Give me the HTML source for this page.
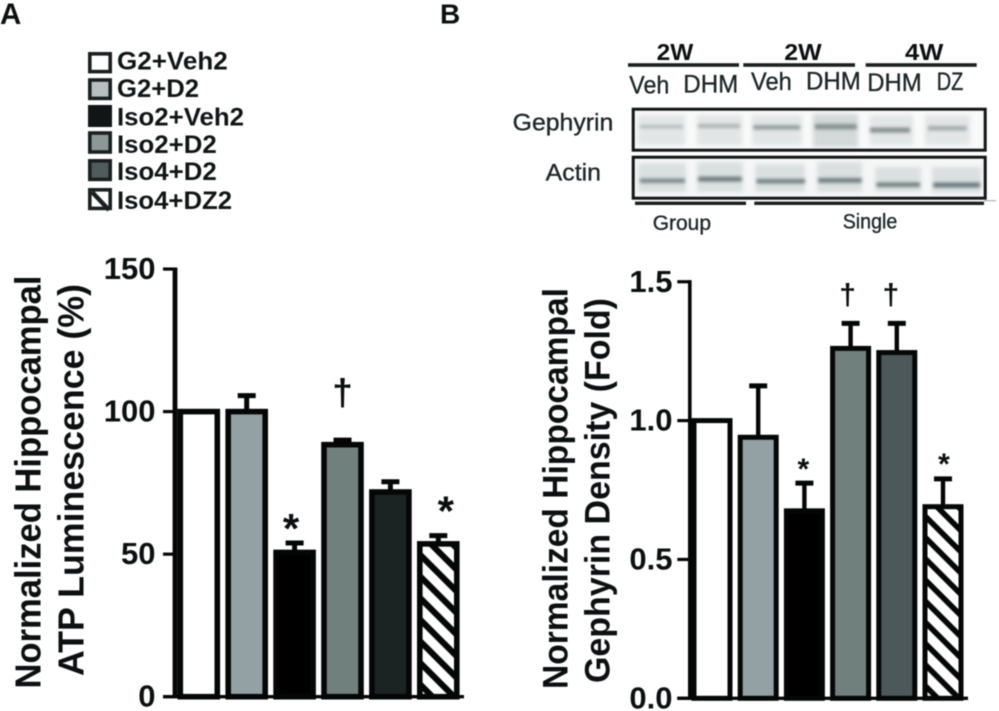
<!DOCTYPE html>
<html lang="en">
<head>
<meta charset="utf-8">
<title>Hippocampal ATP luminescence and gephyrin density</title>
<style>
  html, body { margin: 0; padding: 0; background: #fff; }
  body { width: 999px; height: 711px; overflow: hidden; }
  svg { display: block; filter: blur(0.6px); font-family: "Liberation Sans", sans-serif; }
  .b { font-weight: bold; fill: #0c1010; }
  .blot-label { fill: #1d2727; font-size: 25px; stroke: #1d2727; stroke-width: 0.35px; }
  .legend-text { font-size: 25px; font-weight: bold; fill: #101515; }
  .tick-label { font-weight: bold; fill: #0c1010; text-anchor: end; }
  .bar { stroke: #050707; }
  .atp .f0, .gep .f0 { fill: #fff; }
  .atp .f1, .gep .f1 { fill: #93a1a5; }
  .atp .f2, .gep .f2 { fill: #000; }
  .atp .f3, .gep .f3 { fill: #6f807d; }
  .atp .f4 { fill: #1c2323; }
  .gep .f4 { fill: #4c5859; }
  .atp .f5 { fill: url(#hatch-a); }
  .gep .f5 { fill: url(#hatch-b); }
</style>
</head>
<body>
<svg id="fig" xmlns="http://www.w3.org/2000/svg" width="999" height="711" viewBox="0 0 999 711">
  <defs>
    <pattern id="hatch-a" patternUnits="userSpaceOnUse" width="21.6" height="21.6" x="0" y="134.7">
      <rect width="21.6" height="21.6" fill="#fff"/>
      <path d="M-6,-6 L27.6,27.6 M-6,15.6 L6,27.6 M15.6,-6 L27.6,6" stroke="#050707" stroke-width="6.2"/>
    </pattern>
    <pattern id="hatch-b" patternUnits="userSpaceOnUse" width="21.2" height="21.2" x="0" y="-409">
      <rect width="21.2" height="21.2" fill="#fff"/>
      <path d="M-6,-6 L27.2,27.2 M-6,15.2 L6,27.2 M15.2,-6 L27.2,6" stroke="#050707" stroke-width="5.6"/>
    </pattern>
    <filter id="soft" x="-20%" y="-150%" width="140%" height="400%"><feGaussianBlur stdDeviation="1.7"/></filter>
    <filter id="halo" x="-20%" y="-30%" width="140%" height="160%"><feGaussianBlur stdDeviation="2.2"/></filter>
  </defs>
  <rect width="999" height="711" fill="#fff"/>

  <text x="0" y="24" class="b" font-size="29.5">A</text>
  <text x="440" y="23.3" class="b" font-size="28">B</text>

  <g>
    <g>
      <rect x="89.8" y="53.8" width="20.4" height="17.8" fill="#fff" stroke="#1a2020" stroke-width="3.6"/>
      <text x="117" y="69.5" class="legend-text" textLength="110.7" lengthAdjust="spacingAndGlyphs">G2+Veh2</text>
    </g>
    <g>
      <rect x="89.8" y="80" width="20.4" height="18.4" fill="#b6c0c0" stroke="#1a2020" stroke-width="3.6"/>
      <text x="117" y="97" class="legend-text" textLength="82" lengthAdjust="spacingAndGlyphs">G2+D2</text>
    </g>
    <g>
      <rect x="88" y="105" width="24" height="22" fill="#111515"/>
      <text x="117" y="125.7" class="legend-text" textLength="127" lengthAdjust="spacingAndGlyphs">Iso2+Veh2</text>
    </g>
    <g>
      <rect x="89.8" y="133" width="20.4" height="19" fill="#8c9796" stroke="#1a2020" stroke-width="3.6"/>
      <text x="117" y="153" class="legend-text" textLength="99.7" lengthAdjust="spacingAndGlyphs">Iso2+D2</text>
    </g>
    <g>
      <rect x="89.8" y="160.8" width="20.4" height="18.6" fill="#515b5c" stroke="#1a2020" stroke-width="3.6"/>
      <text x="117" y="180" class="legend-text" textLength="99.7" lengthAdjust="spacingAndGlyphs">Iso4+D2</text>
    </g>
    <g>
      <rect x="89.8" y="189.8" width="20.4" height="18.6" fill="#fff" stroke="#1a2020" stroke-width="3.6"/>
      <path d="M92,192 L109,210" stroke="#1a2020" stroke-width="4.5"/>
      <text x="117" y="209" class="legend-text" textLength="115" lengthAdjust="spacingAndGlyphs">Iso4+DZ2</text>
    </g>
  </g>

  <g>
    <g>
      <text x="656.7" y="60" class="b" font-size="23" textLength="36.6" lengthAdjust="spacingAndGlyphs">2W</text>
      <text x="784.3" y="60" class="b" font-size="23" textLength="37.4" lengthAdjust="spacingAndGlyphs">2W</text>
      <text x="905" y="60" class="b" font-size="23" textLength="38.3" lengthAdjust="spacingAndGlyphs">4W</text>
      <rect x="628" y="63.2" width="111" height="3.6" fill="#1a2020"/>
      <rect x="743.3" y="63.2" width="111.7" height="3.6" fill="#1a2020"/>
      <rect x="865.7" y="63.2" width="111" height="3.6" fill="#1a2020"/>
    </g>
    <g>
      <text x="629.3" y="93.3" class="blot-label" textLength="40" lengthAdjust="spacingAndGlyphs">Veh</text>
      <text x="683.3" y="92.3" class="blot-label" textLength="55" lengthAdjust="spacingAndGlyphs">DHM</text>
      <text x="751" y="90" class="blot-label" textLength="40.7" lengthAdjust="spacingAndGlyphs">Veh</text>
      <text x="806" y="89.3" class="blot-label" textLength="54.7" lengthAdjust="spacingAndGlyphs">DHM</text>
      <text x="867.3" y="91" class="blot-label" textLength="54.4" lengthAdjust="spacingAndGlyphs">DHM</text>
      <text x="936.7" y="90" class="blot-label" textLength="26.6" lengthAdjust="spacingAndGlyphs">DZ</text>
    </g>
    <text x="512.7" y="130.7" class="blot-label" style="font-size:24px" textLength="100.6" lengthAdjust="spacingAndGlyphs">Gephyrin</text>
    <text x="545.7" y="180.7" class="blot-label" style="font-size:24px" textLength="55.3" lengthAdjust="spacingAndGlyphs">Actin</text>

    <g>
      <rect x="633.2" y="109.2" width="352" height="41" fill="#f8f9f9"/>
      <g fill="#e2e6e6" filter="url(#halo)">
        <rect x="638" y="115" width="47" height="30"/>
        <rect x="697" y="115" width="45" height="30"/>
        <rect x="752" y="115" width="50" height="30"/>
        <rect x="813" y="114" width="45" height="33" fill="#d3d9d9"/>
        <rect x="870" y="115" width="43" height="30"/>
        <rect x="925" y="115" width="45" height="30"/>
      </g>
      <g filter="url(#soft)">
        <rect x="640" y="125" width="43" height="3.5" fill="#b4bcbc"/>
        <rect x="698" y="124" width="42" height="4" fill="#aab3b3"/>
        <rect x="753.3" y="125.2" width="46.7" height="4.4" fill="#909c9c"/>
        <rect x="815" y="124" width="41.7" height="5.4" fill="#87928f"/>
        <rect x="870" y="127.6" width="40" height="5" fill="#85908e"/>
        <rect x="928" y="126" width="38.7" height="4.5" fill="#a2acac"/>
      </g>
      <rect x="633.2" y="109.2" width="352" height="41" fill="none" stroke="#111616" stroke-width="3"/>
    </g>
    <g>
      <rect x="633.2" y="157.2" width="352" height="41" fill="#f5f7f7"/>
      <g fill="#dae0e0" filter="url(#halo)">
        <rect x="638" y="163" width="48" height="29"/>
        <rect x="697" y="162" width="46" height="30"/>
        <rect x="755" y="164" width="50" height="28"/>
        <rect x="817" y="162" width="45" height="30"/>
        <rect x="875" y="167" width="46" height="25"/>
        <rect x="932" y="167" width="49" height="26"/>
      </g>
      <g filter="url(#soft)">
        <rect x="640" y="178.5" width="45" height="4.4" fill="#7d898a"/>
        <rect x="698.3" y="176.7" width="43.4" height="4.8" fill="#6c797a"/>
        <rect x="756.7" y="179" width="48.3" height="4.4" fill="#727e7f"/>
        <rect x="818.3" y="178" width="43.4" height="4.8" fill="#727e7f"/>
        <rect x="876.7" y="182.5" width="43.3" height="4.4" fill="#727e7f"/>
        <rect x="933.3" y="182.6" width="46.7" height="4.8" fill="#69767d"/>
      </g>
      <rect x="633.2" y="157.2" width="352" height="41" fill="none" stroke="#111616" stroke-width="3"/>
    </g>
    <g>
      <rect x="635" y="201.6" width="111" height="3.4" fill="#1a2020"/>
      <rect x="754.3" y="201.6" width="229.7" height="3.4" fill="#1a2020"/>
      <rect x="984" y="200.2" width="12" height="1" fill="#9aa3a3"/>
      <text x="652.7" y="230" class="blot-label" style="font-size:21px" textLength="58.3" lengthAdjust="spacingAndGlyphs">Group</text>
      <text x="842.7" y="228.3" class="blot-label" style="font-size:21px" textLength="54.6" lengthAdjust="spacingAndGlyphs">Single</text>
    </g>
  </g>

  <g>
    <text transform="translate(40.5,688.5) rotate(-90)" class="b" font-size="36" textLength="413" lengthAdjust="spacingAndGlyphs">Normalized Hippocampal</text>
    <text transform="translate(83.3,676) rotate(-90)" class="b" font-size="36" textLength="392" lengthAdjust="spacingAndGlyphs">ATP Luminescence (%)</text>
  </g>
  <g>
    <text transform="translate(567.3,689) rotate(-90)" class="b" font-size="35" textLength="401" lengthAdjust="spacingAndGlyphs">Normalized Hippocampal</text>
    <text transform="translate(609.3,683) rotate(-90)" class="b" font-size="35" textLength="385" lengthAdjust="spacingAndGlyphs">Gephyrin Density (Fold)</text>
  </g>

  <g id="plot-a" class="atp"></g>
  <g id="plot-b" class="gep"></g>
</svg>

<script>
const categories = ['G2+Veh2', 'G2+D2', 'Iso2+Veh2', 'Iso2+D2', 'Iso4+D2', 'Iso4+DZ2'];

const atpValues = [100, 100, 50.6, 88.4, 71.8, 53.6];
const atpErrors = [0, 5.6, 3.3, 1.6, 3.6, 2.9];
const atpMarks = ['', '', '*', '†', '', '*'];
const atpTickValues = [0, 50, 100, 150];
const atpTickLabels = ['0', '50', '100', '150'];

const gephyrinValues = [1.0, 0.94, 0.675, 1.26, 1.245, 0.69];
const gephyrinErrors = [0, 0.185, 0.1, 0.09, 0.105, 0.1];
const gephyrinMarks = ['', '', '*', '†', '†', '*'];
const gephyrinTickValues = [0, 0.5, 1.0, 1.5];
const gephyrinTickLabels = ['0.0', '0.5', '1.0', '1.5'];

const SVG_NS = 'http://www.w3.org/2000/svg';

function make(parent, tag, attrs, text) {
  const el = document.createElementNS(SVG_NS, tag);
  for (const k in attrs) el.setAttribute(k, attrs[k]);
  if (text !== undefined) el.textContent = text;
  parent.appendChild(el);
  return el;
}

function drawPanel(root, cfg, values, errors, marks, tickValues, tickLabels) {
  const y = v => cfg.y0 - v * cfg.yScale;
  const x = i => cfg.x0 + cfg.pitch * i;

  values.forEach((v, i) => {
    const g = make(root, 'g', {});
    
    

    if (errors[i] > 0) {
      const top = y(v + errors[i]);
      const stem = make(g, 'line', { x1: x(i), x2: x(i), y1: top, y2: y(v), stroke: '#050707', 'stroke-width': cfg.stem });
      
      
      const cap = make(g, 'line', { x1: x(i) - cfg.cap / 2, x2: x(i) + cfg.cap / 2, y1: top, y2: top, stroke: '#050707', 'stroke-width': 5 });
      
      
    }

    const bar = make(g, 'rect', {
      x: x(i) - cfg.barWidth / 2, y: y(v),
      width: cfg.barWidth, height: cfg.y0 - y(v),
      'stroke-width': cfg.stroke,
      class: 'bar f' + i
    });
    
    

    if (marks[i]) {
      const isStar = marks[i] === '*';
      const t = make(g, 'text', {
        x: x(i) + cfg.markDx[i],
        y: y(v + errors[i]) + cfg.markDy[i],
        'text-anchor': 'middle',
        'font-size': isStar ? cfg.starSize : cfg.daggerSize,
        'font-weight': 'bold',
        fill: '#0a0e0e'
      }, marks[i]);
      
      
    }
  });

  const axis = make(root, 'g', {});
  
  

  const spine = make(axis, 'line', {
    x1: cfg.spineX, x2: cfg.spineX,
    y1: y(tickValues[tickValues.length - 1]) - 1.6, y2: cfg.y0,
    stroke: '#050707', 'stroke-width': cfg.spineWidth
  });
  
  

  tickValues.forEach((tv, i) => {
    const tick = make(axis, 'line', {
      x1: cfg.tickStart, x2: cfg.spineX, y1: y(tv), y2: y(tv),
      stroke: '#050707', 'stroke-width': 3.2
    });
    
    

    const label = make(axis, 'text', {
      x: cfg.labelX, y: y(tv) + cfg.labelDy,
      'font-size': cfg.labelSize, class: 'tick-label'
    }, tickLabels[i]);
    
    
  });

  const base = make(root, 'line', {
    x1: cfg.tickStart, x2: cfg.baseEnd, y1: cfg.y0, y2: cfg.y0,
    stroke: '#050707', 'stroke-width': 3.4
  });
  
  
}

drawPanel(document.getElementById('plot-a'), {
  y0: 696.7, yScale: 2.851, x0: 198.8, pitch: 47.9, barWidth: 37, stroke: 5.6,
  stem: 5, cap: 18, spineX: 175, spineWidth: 4.8, tickStart: 163, baseEnd: 464,
  labelX: 155.5, labelDy: 10, labelSize: 31,
  markDx: [0, 0, -3.5, 0, 0, 7.5], markDy: [0, 0, 0, -35, 0, -10],
  starSize: 42, daggerSize: 37
}, atpValues, atpErrors, atpMarks, atpTickValues, atpTickLabels);

drawPanel(document.getElementById('plot-b'), {
  y0: 698.3, yScale: 277.7, x0: 712, pitch: 46.2, barWidth: 36, stroke: 5,
  stem: 4.4, cap: 18, spineX: 689.8, spineWidth: 3.6, tickStart: 677.3, baseEnd: 968,
  labelX: 672.5, labelDy: 10, labelSize: 31,
  markDx: [0, 0, -1, -3, -6, 1], markDy: [0, 0, -4, -19, -19, -5],
  starSize: 30, daggerSize: 30
}, gephyrinValues, gephyrinErrors, gephyrinMarks, gephyrinTickValues, gephyrinTickLabels);
</script>
</body>
</html>
